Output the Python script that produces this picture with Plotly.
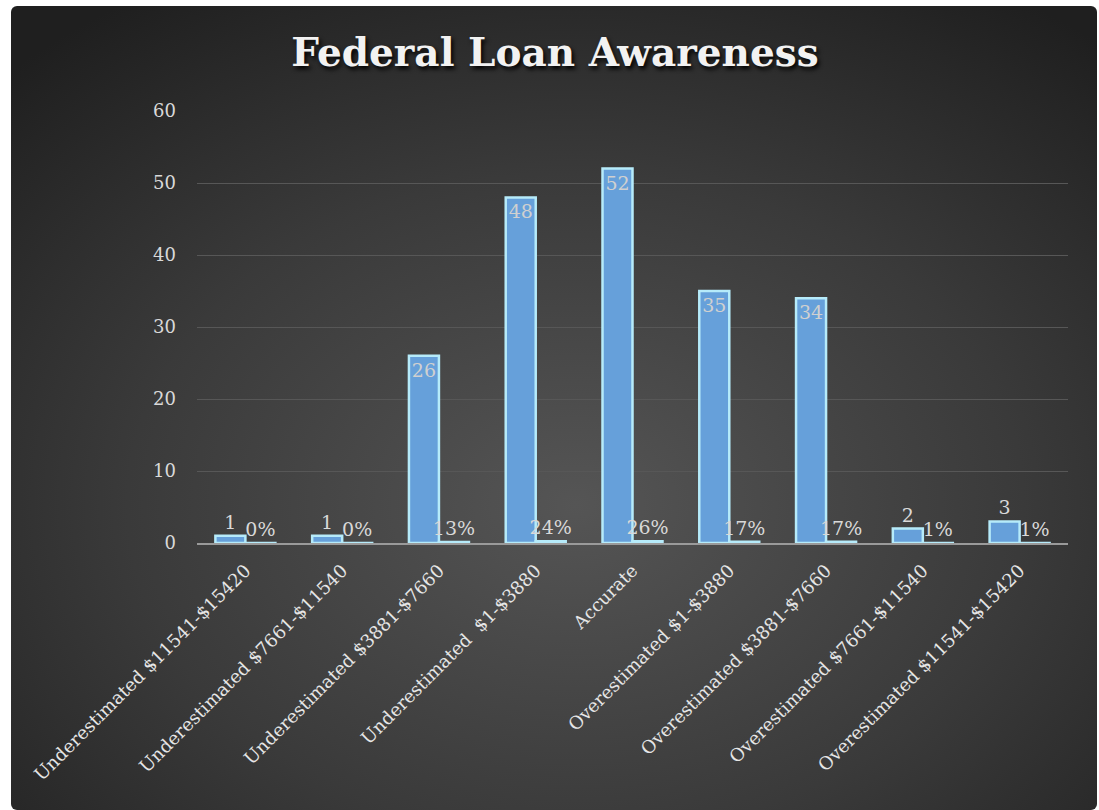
import base64
import plotly.graph_objects as go

categories = [
    "Underestimated $11541-$15420",
    "Underestimated $7661-$11540",
    "Underestimated $3881-$7660",
    "Underestimated  $1-$3880",
    "Accurate",
    "Overestimated $1-$3880",
    "Overestimated $3881-$7660",
    "Overestimated $7661-$11540",
    "Overestimated $11541-$15420",
]
counts = [1, 1, 26, 48, 52, 35, 34, 2, 3]
shares = [0.005, 0.005, 0.129, 0.238, 0.257, 0.173, 0.168, 0.010, 0.015]
share_labels = ["0%", "0%", "13%", "24%", "26%", "17%", "17%", "1%", "1%"]
title_text = "Federal Loan Awareness"

FONT = "DejaVu Serif, Liberation Serif, serif"

W, H = 1099, 810
L, R, T, B = 197, 31, 111, 267
pw, ph = W - L - R, H - T - B

svg = f'''<svg xmlns="http://www.w3.org/2000/svg" width="1086" height="804" viewBox="0 0 1086 804" preserveAspectRatio="none">
<defs><radialGradient id="g" cx="0.52" cy="0.62" r="0.75" fx="0.52" fy="0.62">
<stop offset="0" stop-color="#555555"/><stop offset="0.55" stop-color="#3a3a3a"/><stop offset="1" stop-color="#1f1f1f"/>
</radialGradient></defs>
<rect x="0" y="0" width="1086" height="804" rx="6" ry="6" fill="url(#g)"/></svg>'''
src = "data:image/svg+xml;base64," + base64.b64encode(svg.encode()).decode()

bar_marker = dict(color="#66a0da", line=dict(color="#b6ebfa", width=2.5))
count_pos = ["outside" if c < 5 else "inside" for c in counts]

fig = go.Figure()
fig.add_trace(go.Bar(
    x=categories, y=counts, marker=bar_marker,
    text=[str(c) for c in counts], textposition=count_pos, insidetextanchor="end",
    constraintext="none", cliponaxis=False, textangle=0,
    textfont=dict(family=FONT, size=19, color="#d0d0d0"),
    outsidetextfont=dict(family=FONT, size=19, color="#d9d9d9"),
    insidetextfont=dict(family=FONT, size=19, color="#d0d0d0"),
))
fig.add_trace(go.Bar(
    x=categories, y=shares, marker=bar_marker,
    text=share_labels, textposition="outside", constraintext="none", cliponaxis=False,
    textangle=0,
    textfont=dict(family=FONT, size=19, color="#d9d9d9"),
))

fig.update_layout(
    width=W, height=H,
    margin=dict(l=L, r=R, t=T, b=B),
    paper_bgcolor="white", plot_bgcolor="rgba(0,0,0,0)",
    barmode="group", bargap=0.38, bargroupgap=0,
    showlegend=False,
    title=dict(text=title_text, x=0.505, xanchor="center", y=0.935, yanchor="middle",
               font=dict(family=FONT, size=39, color="#f2f2f2", weight="bold",
                         shadow="2px 3px 4px #000000")),
    images=[dict(source=src, xref="paper", yref="paper",
                 x=(11 - L) / pw, y=(H - B - 6) / ph,
                 sizex=1086 / pw, sizey=804 / ph,
                 xanchor="left", yanchor="top", sizing="stretch", layer="below")],
)
fig.update_yaxes(range=[0, 60], dtick=10, showgrid=True, gridcolor="#575757", gridwidth=1,
                 zeroline=False, showline=False, ticks="",
                 tickfont=dict(family=FONT, size=18, color="#d9d9d9"), ticklabelstandoff=20)
fig.update_xaxes(showline=True, linecolor="#9a9a9a", linewidth=2, ticks="",
                 tickangle=-45, tickfont=dict(family=FONT, size=18, color="#e6e6e6"),
                 ticklabelstandoff=8)

fig.write_html("out.html")
